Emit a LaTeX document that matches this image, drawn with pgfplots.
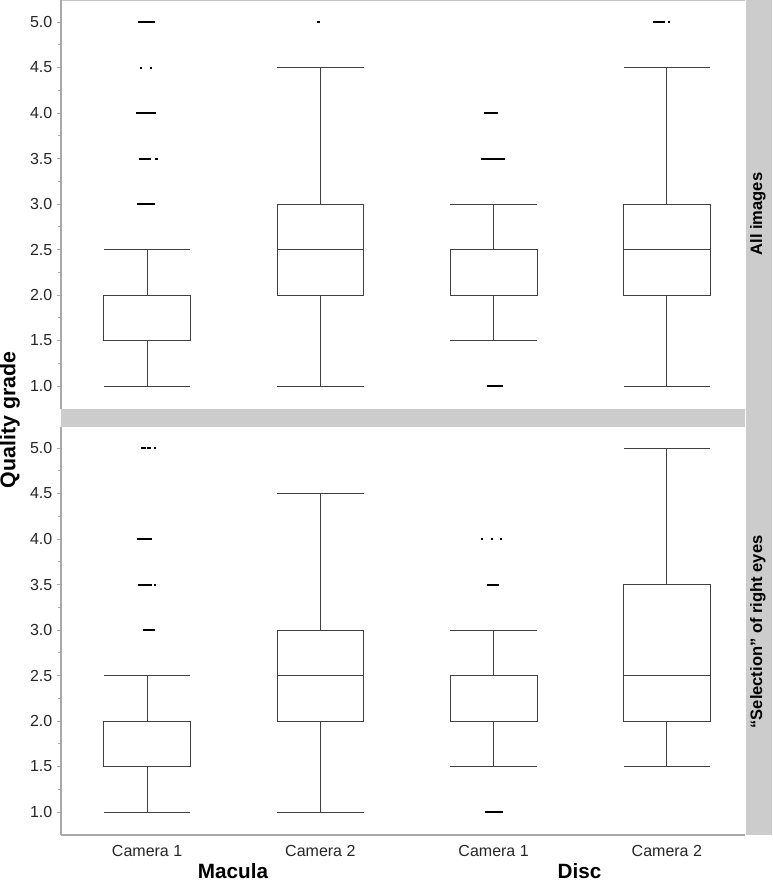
\documentclass[border=0pt]{standalone}
\usepackage{fontspec}
\setmainfont{Liberation Sans}
\usepackage{pgfplots}
\pgfplotsset{compat=1.18}
\usepgfplotslibrary{statistics}

\definecolor{stripgray}{HTML}{CCCCCC}
\definecolor{axgray}{HTML}{A8A8A8}
\definecolor{boxline}{HTML}{404040}

\pgfplotsset{
  panel/.style={
    scale only axis, width=513pt,
    xmin=0.503, xmax=4.451, ymin=0.747,
    axis y line*=left,
    axis line style={axgray, line width=0.8pt},
    ytick={1,1.5,2,2.5,3,3.5,4,4.5,5}, minor y tick num=1,
    y tick style={axgray, line width=0.6pt},
    tick align=outside, major tick length=3pt, minor tick length=2pt,
    yticklabel style={font=\fontsize{12}{14}\selectfont, text=black!85,
      /pgf/number format/.cd, fixed, fixed zerofill, precision=1, assume math mode=true},
    clip=false,
  },
  bx/.style={boxplot prepared={#1, box extend=0.5, whisker extend=0.5, draw direction=y},
    draw=boxline, line width=0.6pt, solid, mark=none},
  out/.style={only marks, mark=square*, mark size=0.5pt, black},
}

\begin{document}
\begin{tikzpicture}
% panel strips
\fill[stripgray] (45.75pt,-306.75pt) rectangle (558.75pt,-320.25pt);
\fill[stripgray] (559.5pt,0pt) rectangle (579pt,-626.25pt);
\draw[axgray!70, line width=0.8pt] (45.75pt,-0.4pt) -- (558.75pt,-0.4pt);

% top panel: all images
\begin{axis}[panel, at={(45.75pt,-306.75pt)}, anchor=south west,
  height=306.75pt, ymax=5.242, axis x line=none]
\addplot[bx={draw position=1, lower whisker=1, lower quartile=1.5, median=1.5, upper quartile=2, upper whisker=2.5}] coordinates {};
\addplot[bx={draw position=2, lower whisker=1, lower quartile=2, median=2.5, upper quartile=3, upper whisker=4.5}] coordinates {};
\addplot[bx={draw position=3, lower whisker=1.5, lower quartile=2, median=2, upper quartile=2.5, upper whisker=3}] coordinates {};
\addplot[bx={draw position=4, lower whisker=1, lower quartile=2, median=2.5, upper quartile=3, upper whisker=4.5}] coordinates {};
\addplot[out] coordinates {
 (0.954,5) (0.965,5) (0.977,5) (0.988,5) (1.000,5) (1.012,5) (1.023,5) (1.035,5) (1.040,5)
 (0.965,4.5) (1.023,4.5)
 (0.942,4) (0.954,4) (0.965,4) (0.977,4) (0.988,4) (1.000,4) (1.012,4) (1.023,4) (1.035,4) (1.046,4)
 (0.960,3.5) (0.971,3.5) (0.983,3.5) (0.994,3.5) (1.006,3.5) (1.017,3.5) (1.052,3.5)
 (0.948,3) (0.960,3) (0.971,3) (0.983,3) (0.994,3) (1.006,3) (1.017,3) (1.029,3) (1.040,3)
 (1.988,5)
 (2.948,4) (2.960,4) (2.971,4) (2.983,4) (2.994,4) (3.006,4) (3.017,4)
 (2.931,3.5) (2.942,3.5) (2.954,3.5) (2.965,3.5) (2.977,3.5) (2.988,3.5) (3.000,3.5) (3.012,3.5) (3.023,3.5) (3.035,3.5) (3.046,3.5) (3.058,3.5)
 (2.965,1) (2.977,1) (2.988,1) (3.000,1) (3.012,1) (3.023,1) (3.035,1) (3.046,1)
 (3.925,5) (3.936,5) (3.948,5) (3.960,5) (3.971,5) (3.983,5) (4.012,5)
};
\end{axis}

% bottom panel: selection of right eyes
\begin{axis}[panel, at={(45.75pt,-626.25pt)}, anchor=south west,
  height=306pt, ymax=5.231, axis x line*=bottom,
  xtick={1,2,3,4}, xticklabels={Camera 1, Camera 2, Camera 1, Camera 2},
  x tick style={draw=none},
  xticklabel style={font=\fontsize{12}{14}\selectfont, text=black!85, yshift=-1pt}]
\addplot[bx={draw position=1, lower whisker=1, lower quartile=1.5, median=1.5, upper quartile=2, upper whisker=2.5}] coordinates {};
\addplot[bx={draw position=2, lower whisker=1, lower quartile=2, median=2.5, upper quartile=3, upper whisker=4.5}] coordinates {};
\addplot[bx={draw position=3, lower whisker=1.5, lower quartile=2, median=2, upper quartile=2.5, upper whisker=3}] coordinates {};
\addplot[bx={draw position=4, lower whisker=1.5, lower quartile=2, median=2.5, upper quartile=3.5, upper whisker=5}] coordinates {};
\addplot[out] coordinates {
 (0.971,5) (0.983,5) (1.006,5) (1.017,5) (1.046,5)
 (0.948,4) (0.960,4) (0.971,4) (0.983,4) (1.000,4) (1.012,4) (1.023,4)
 (0.954,3.5) (0.965,3.5) (0.977,3.5) (0.988,3.5) (1.000,3.5) (1.012,3.5) (1.023,3.5) (1.046,3.5)
 (0.983,3) (0.994,3) (1.006,3) (1.017,3) (1.029,3) (1.040,3)
 (2.931,4) (2.988,4) (3.040,4)
 (2.965,3.5) (2.977,3.5) (2.988,3.5) (3.000,3.5) (3.012,3.5) (3.023,3.5)
 (2.954,1) (2.965,1) (2.977,1) (2.988,1) (3.000,1) (3.012,1) (3.023,1) (3.035,1) (3.046,1)
};
\end{axis}

% labels
\node[rotate=90, font=\bfseries\fontsize{16}{18}\selectfont] at (7.5pt,-315pt) {Quality grade};
\node[font=\bfseries\fontsize{15.5}{17}\selectfont, inner sep=1pt] at (174.75pt,-653pt) {Macula};
\node[font=\bfseries\fontsize{15.5}{17}\selectfont, inner sep=1pt] at (434.6pt,-653pt) {Disc};
\node[rotate=90, font=\bfseries\fontsize{12.4}{14}\selectfont] at (568.5pt,-160.5pt) {All images};
\node[rotate=90, font=\bfseries\fontsize{12.4}{14}\selectfont] at (568.5pt,-474pt) {“Selection” of right eyes};

\pgfresetboundingbox
\path[use as bounding box] (0pt,0pt) rectangle (579pt,-661.5pt);
\end{tikzpicture}
\end{document}
